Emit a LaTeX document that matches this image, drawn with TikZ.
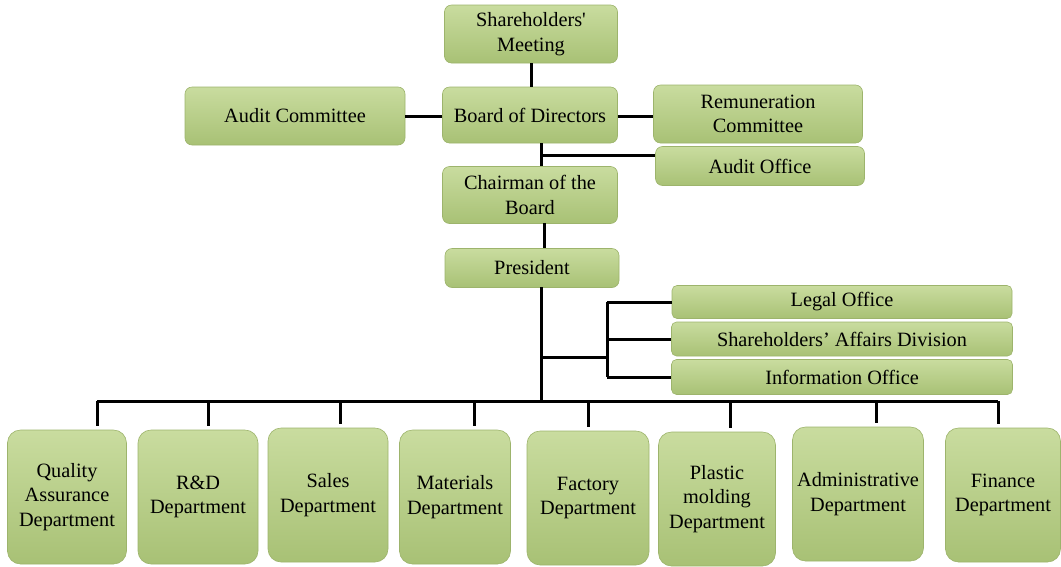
\documentclass[tikz,border=0pt]{standalone}
\usepackage{fontspec}
\setmainfont{Liberation Serif}
\definecolor{boxtop}{HTML}{C9DC9F}
\definecolor{boxbot}{HTML}{A8C175}
\definecolor{boxedge}{HTML}{9DB46C}
\begin{document}
\begin{tikzpicture}[x=1pt,y=-1pt,
  gbox/.style={rounded corners=7pt, top color=boxtop, bottom color=boxbot,
    draw=boxedge, line width=0.6pt, align=center, inner sep=2pt,
    font=\fontsize{20.3}{24.5}\selectfont},
  dept/.style={gbox, rounded corners=13pt, minimum width=#1, minimum height=134pt},
  conn/.style={line width=3pt, black}]
\useasboundingbox (0,0) rectangle (1061,566);

% upper nodes
\node[gbox, minimum width=173pt, minimum height=58pt] (share) at (531,34) {Shareholders\textquotesingle\\Meeting};
\node[gbox, minimum width=220pt, minimum height=58pt] (auditc) at (295,116) {Audit Committee};
\node[gbox, minimum width=175pt, minimum height=56pt] (board) at (530,115) {Board of Directors};
\node[gbox, minimum width=209pt, minimum height=58pt] (remun) at (758,114) {Remuneration\\Committee};
\node[gbox, minimum width=209pt, minimum height=39pt] (aoffice) at (760,166) {Audit Office};
\node[gbox, minimum width=175pt, minimum height=57pt] (chair) at (530,195) {Chairman of the\\Board};
\node[gbox, minimum width=174pt, minimum height=39pt] (pres) at (532,268) {President};
\node[gbox, rounded corners=5pt, minimum width=340pt, minimum height=33pt] (legal) at (842,302) {Legal Office};
\node[gbox, rounded corners=5pt, minimum width=341pt, minimum height=34pt] (sad) at (842,339) {Shareholders’ Affairs Division};
\node[gbox, rounded corners=5pt, minimum width=341pt, minimum height=35pt] (info) at (842,377) {Information Office};

% departments
\node[dept=119pt] (qa) at (67,497) {Quality\\Assurance\\Department};
\node[dept=120pt] (rd) at (198,497) {R\&D\\Department};
\node[dept=120pt] (sales) at (328,495) {Sales\\Department};
\node[dept=111pt] (mat) at (455,497) {Materials\\Department};
\node[dept=122pt] (fac) at (588,498) {Factory\\Department};
\node[dept=117pt] (pm) at (717,499) {Plastic\\molding\\Department};
\node[dept=131pt] (adm) at (858,494) {Administrative\\Department};
\node[dept=115pt] (fin) at (1003,495) {Finance\\Department};

% top connectors
\draw[conn] (share.south) -- (share.south |- board.north);
\draw[conn] (auditc.east) -- (auditc.east -| board.west);
\draw[conn] ([yshift=-1pt]board.east) -- ([yshift=-1pt]board.east -| remun.west);
\coordinate (bc) at (541,143);
\draw[conn] (bc) -- (bc |- chair.north);
\coordinate (ao) at (541,155);
\draw[conn] (ao) -- (ao -| aoffice.west);
\coordinate (cp) at (544,223);
\draw[conn] (cp) -- (cp |- pres.north);

% president to bus
\coordinate (busL) at (97,401);
\coordinate (busR) at (998,401);
\coordinate (pb) at (541,287);
\draw[conn] (pb) -- (pb |- busL);
\draw[conn] (busL) -- (busR);

% staff offices
\coordinate (j) at (541,357);
\coordinate (v) at (607,357);
\draw[conn] (j) -- (v);
\draw[conn] (v |- legal.west) -- (v |- info.west);
\draw[conn] (v |- legal.west) -- (legal.west);
\draw[conn] (v |- sad.west) -- (sad.west);
\draw[conn] (v |- info.west) -- (info.west);

% drops
\foreach \n/\x in {qa/97, rd/208, sales/340, mat/474, fac/588, pm/730, adm/876, fin/998}{
  \coordinate (d\n) at (\x,401);
  \draw[conn, shorten >=4pt] (d\n) -- (d\n |- \n.north);
}
\end{tikzpicture}
\end{document}
